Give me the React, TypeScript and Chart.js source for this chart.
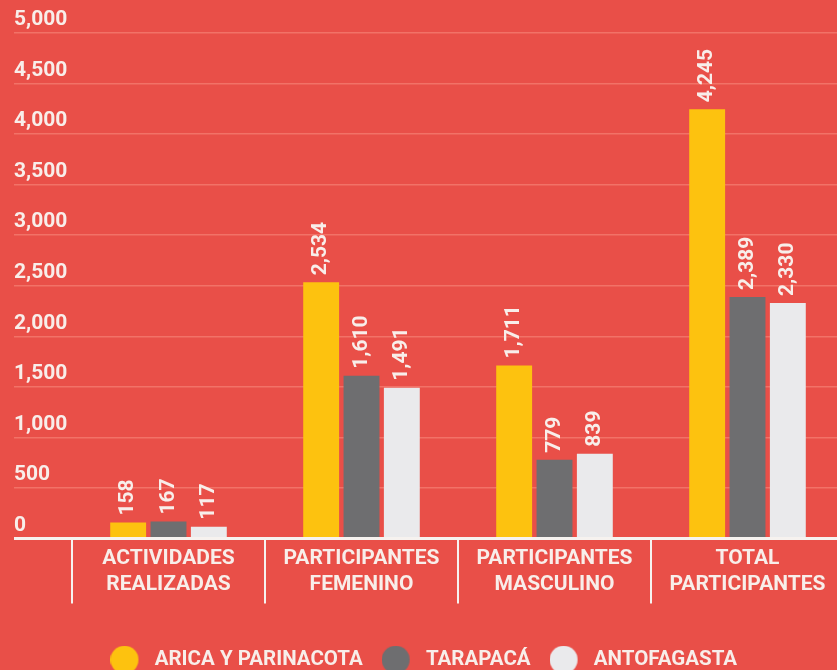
import React, { useEffect, useRef } from "react";
import { Chart, registerables } from "chart.js";

Chart.register(...registerables);

const categories: string[][] = [
  ["ACTIVIDADES", "REALIZADAS"],
  ["PARTICIPANTES", "FEMENINO"],
  ["PARTICIPANTES", "MASCULINO"],
  ["TOTAL", "PARTICIPANTES"],
];
const seriesNames = ["ARICA Y PARINACOTA", "TARAPACÁ", "ANTOFAGASTA"];
const aricaValues = [158, 2534, 1711, 4245];
const tarapacaValues = [167, 1610, 779, 2389];
const antofagastaValues = [117, 1491, 839, 2330];
const yMax = 5000;
const yStep = 500;

const BG = "#e94f48";
const GRID = "#f27267";
const TEXT = "#f8eeea";
const WHITE = "#f6f2ef";
const COLORS = ["#fdc20f", "#6e6e70", "#eaeaec"];

function makeDot(color: string, d: number, w: number): HTMLCanvasElement {
  const c = document.createElement("canvas");
  c.width = w;
  c.height = d;
  const g = c.getContext("2d")!;
  g.fillStyle = color;
  g.beginPath();
  g.arc(d / 2, d / 2, d / 2, 0, Math.PI * 2);
  g.fill();
  return c;
}

const valueLabelPlugin = {
  id: "valueLabels",
  afterDatasetsDraw(chart: any) {
    const ctx = chart.ctx;
    ctx.save();
    ctx.fillStyle = TEXT;
    ctx.font = "bold 21px Roboto";
    ctx.textAlign = "left";
    ctx.textBaseline = "middle";
    chart.data.datasets.forEach((ds: any, di: number) => {
      const meta = chart.getDatasetMeta(di);
      meta.data.forEach((bar: any, i: number) => {
        const v = ds.data[i] as number;
        ctx.save();
        ctx.translate(bar.x, bar.y - 7);
        ctx.rotate(-Math.PI / 2);
        ctx.fillText(v.toLocaleString("en-US"), 0, 0);
        ctx.restore();
      });
    });
    ctx.restore();
  },
};

export default function App() {
  const ref = useRef<HTMLCanvasElement | null>(null);
  useEffect(() => {
    if (!ref.current) return;
    const dots = COLORS.map((c) => makeDot(c, 28, 34));
    const chart = new Chart(ref.current, {
      type: "bar",
      data: {
        labels: categories,
        datasets: [
          { label: seriesNames[0], data: aricaValues, backgroundColor: COLORS[0] },
          { label: seriesNames[1], data: tarapacaValues, backgroundColor: COLORS[1] },
          { label: seriesNames[2], data: antofagastaValues, backgroundColor: COLORS[2] },
        ],
      },
      options: {
        responsive: false,
        animation: false,
        events: [],
        layout: { padding: { top: 33, left: 14, right: 1, bottom: 1 } },
        datasets: { bar: { categoryPercentage: 0.627, barPercentage: 0.89 } },
        scales: {
          x: {
            grid: {
              display: true,
              drawOnChartArea: false,
              drawTicks: true,
              tickLength: 65,
              offset: true,
              color: WHITE,
              lineWidth: 2,
            },
            border: { display: true, color: WHITE, width: 3 },
            ticks: {
              color: TEXT,
              font: { family: "Roboto", size: 21, weight: "bold", lineHeight: 1.2 },
              padding: -57,
              autoSkip: false,
              maxRotation: 0,
            },
            afterFit: (s: any) => {
              s.height = 92;
            },
          },
          y: {
            min: 0,
            max: yMax,
            grid: {
              color: (c: any) => (c.tick && c.tick.value === 0 ? WHITE : GRID),
              lineWidth: (c: any) => (c.tick && c.tick.value === 0 ? 3 : 1.5),
              drawTicks: true,
              tickLength: 58,
            },
            border: { display: false },
            ticks: {
              stepSize: yStep,
              color: TEXT,
              font: { family: "Roboto", size: 21, weight: "bold" },
              crossAlign: "far",
              labelOffset: -13,
              callback: (v: any) => Number(v).toLocaleString("en-US"),
            },
            afterFit: (s: any) => {
              s.width = 58;
            },
          },
        },
        plugins: {
          tooltip: { enabled: false },
          legend: {
            position: "bottom",
            labels: {
              color: TEXT,
              font: { family: "Roboto", size: 20.5, weight: "bold" },
              usePointStyle: true,
              pointStyleWidth: 34,
              padding: 19,
              generateLabels: (chart: any) => {
                const base = Chart.defaults.plugins.legend.labels.generateLabels(chart);
                return base.map((it: any, i: number) => ({
                  ...it,
                  pointStyle: dots[i],
                  text: i === base.length - 1 ? it.text + "\u2002" : it.text,
                }));
              },
            },
          },
        },
      } as any,
      plugins: [valueLabelPlugin],
    });
    return () => chart.destroy();
  }, []);

  return (
    <div
      style={{
        position: "fixed",
        left: 0,
        top: 0,
        width: 837,
        height: 670,
        overflow: "hidden",
        background: BG,
      }}
    >
      <canvas ref={ref} width={845} height={681} style={{ display: "block" }} />
    </div>
  );
}
